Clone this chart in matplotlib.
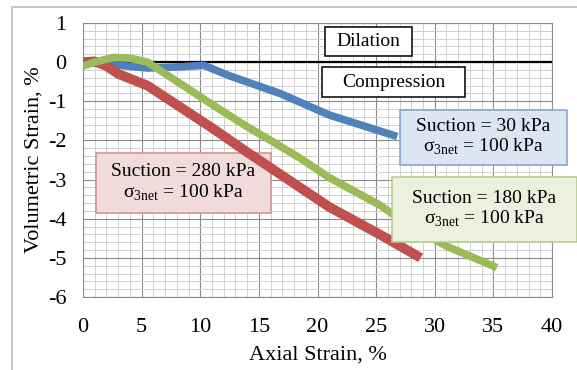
import matplotlib
matplotlib.use("Agg")
import matplotlib.pyplot as plt
from matplotlib.patches import Rectangle
from matplotlib.ticker import MultipleLocator

plt.rcParams['font.family'] = ['Liberation Serif', 'DejaVu Serif']
plt.rcParams['mathtext.fontset'] = 'custom'
plt.rcParams['mathtext.rm'] = 'Liberation Serif'
plt.rcParams['axes.unicode_minus'] = False

# dados (deformacao axial %, deformacao volumetrica %)
x_30 = [0, 2, 5.5, 8.3, 10.3, 12.5, 16.8, 21, 26.8]
y_30 = [0, -0.05, -0.15, -0.12, -0.08, -0.35, -0.8, -1.35, -1.9]

x_280 = [0, 1, 2, 3, 5.5, 8.3, 11.1, 14, 17, 21, 25.3, 28.8]
y_280 = [0, 0.02, -0.1, -0.3, -0.6, -1.15, -1.7, -2.3, -2.9, -3.7, -4.4, -5.0]

x_180 = [0, 1, 2.6, 4, 5.5, 8.3, 11.1, 14, 16, 18.5, 21, 25.3, 28, 31, 35.3]
y_180 = [-0.1, 0.0, 0.12, 0.1, 0.0, -0.55, -1.1, -1.65, -2.0, -2.45, -2.95, -3.65, -4.2, -4.7, -5.25]

azul = '#4F81BD'
vermelho = '#C0504D'
verde = '#9BBB59'

fig = plt.figure(figsize=(5.77, 3.70), dpi=100)
# moldura externa cinza
fig.patches.append(Rectangle((12 / 577, -0.1), 1.2, 1 - 7 / 370 + 0.1,
                             transform=fig.transFigure, fill=False,
                             edgecolor='#BFBFBF', lw=1.2))
ax = fig.add_axes([83 / 577, 1 - 297 / 370, (552 - 83) / 577, (297 - 23) / 370])

ax.set_xlim(0, 40)
ax.set_ylim(-6, 1)
ax.xaxis.set_major_locator(MultipleLocator(5))
ax.xaxis.set_minor_locator(MultipleLocator(1))
ax.yaxis.set_major_locator(MultipleLocator(1))
ax.yaxis.set_minor_locator(MultipleLocator(0.2))
ax.grid(which='major', color='#8C8C8C', lw=0.8)
ax.grid(which='minor', color='#D0D0D0', lw=0.7)
ax.set_axisbelow(True)
ax.tick_params(which='both', length=0)
ax.tick_params(axis='x', pad=15, labelsize=16)
ax.tick_params(axis='y', pad=12, labelsize=16)
for s in ax.spines.values():
    s.set_color('#8C8C8C')
    s.set_linewidth(0.8)

ax.plot(x_30, y_30, color=azul, lw=5.5, solid_capstyle='butt', zorder=3)
ax.plot(x_280, y_280, color=vermelho, lw=7, solid_capstyle='butt', zorder=3)
ax.plot(x_180, y_180, color=verde, lw=5.5, solid_capstyle='butt', zorder=3)
ax.axhline(0, color='black', lw=1.6, zorder=2)

ax.set_xlabel('Axial Strain, %', fontsize=16, labelpad=6)
ax.set_ylabel('Volumetric Strain, %', fontsize=16, labelpad=3)

# caixas de texto (x0, x1, y0, y1 em unidades do grafico)
def caixa(x0, x1, y0, y1, texto, fc, ec, z=5):
    ax.add_patch(Rectangle((x0, y0), x1 - x0, y1 - y0, fc=fc, ec=ec, lw=1.1,
                           zorder=z, clip_on=False))
    ax.text((x0 + x1) / 2, (y0 + y1) / 2, texto, fontsize=14, ha='center',
            va='center', linespacing=1.15, zorder=z + 0.1)

sig = 'σ$_{\\mathrm{3net}}$ = 100 kPa'
caixa(20.64, 28.06, 0.156, 0.897, 'Dilation', 'white', 'black')
caixa(20.38, 32.58, -0.892, -0.125, 'Compression', 'white', 'black')
caixa(27.04, 41.28, -2.629, -1.224, 'Suction = 30 kPa\n' + sig, '#DCE6F2', '#7FA0CF')
caixa(26.35, 42.13, -4.597, -2.936, 'Suction = 180 kPa\n' + sig, '#EBF1DE', '#B5CB88')
caixa(1.11, 16.03, -3.856, -2.32, 'Suction = 280 kPa\n' + sig, '#F2DCDB', '#D08F8D', z=2.5)

fig.savefig('out.png', dpi=100)
